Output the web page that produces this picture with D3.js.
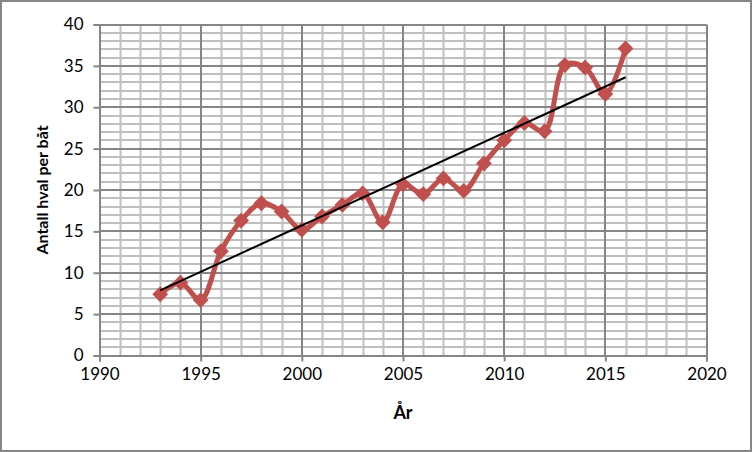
<!DOCTYPE html>
<html><head><meta charset="utf-8">
<script src="https://cdn.jsdelivr.net/npm/d3@7"></script>
<style>body{margin:0;background:#fff;}svg{display:block;font-family:Lato,"Open Sans",sans-serif;}</style>
</head><body>
<script>
const years = [1993,1994,1995,1996,1997,1998,1999,2000,2001,2002,2003,2004,2005,2006,2007,2008,2009,2010,2011,2012,2013,2014,2015,2016];
const values = [7.4,8.8,6.7,12.6,16.3,18.4,17.4,15.2,16.8,18.2,19.6,16.1,20.7,19.5,21.4,19.9,23.2,26.0,28.1,27.1,35.1,34.8,31.6,37.1];
const xTicks = [1990,1995,2000,2005,2010,2015,2020];
const yTicks = [0,5,10,15,20,25,30,35,40];
const xTitle = "År";
const yTitle = "Antall hval per båt";

const W=752,H=452;
const svg=d3.select("body").append("svg").attr("width",W).attr("height",H);
svg.append("rect").attr("x",1).attr("y",1).attr("width",W-2).attr("height",H-2).attr("fill","#fff").attr("stroke","#868686").attr("stroke-width",2);

const x=d3.scaleLinear().domain([1990,2020]).range([99.5,706.5]);
const y=d3.scaleLinear().domain([0,40]).range([355.5,24.5]);

const g=svg.append("g");
const minorX=d3.range(1991,2020).filter(v=>v%5!==0);
const minorY=d3.range(1,40).filter(v=>v%5!==0);
g.selectAll(".mx").data(minorX).enter().append("line")
 .attr("x1",d=>Math.round(x(d))+0.5).attr("x2",d=>Math.round(x(d))+0.5).attr("y1",y(0)).attr("y2",y(40))
 .attr("stroke","#bfbfbf").attr("stroke-width",2);
g.selectAll(".my").data(minorY).enter().append("line")
 .attr("y1",d=>Math.round(y(d))).attr("y2",d=>Math.round(y(d))).attr("x1",x(1990)).attr("x2",x(2020))
 .attr("stroke","#bfbfbf").attr("stroke-width",2);
g.selectAll(".Mx").data(xTicks.slice(1)).enter().append("line")
 .attr("x1",d=>Math.round(x(d))).attr("x2",d=>Math.round(x(d))).attr("y1",y(0)).attr("y2",y(40))
 .attr("stroke","#868686").attr("stroke-width",2);
g.selectAll(".My").data(yTicks.slice(1)).enter().append("line")
 .attr("y1",d=>Math.round(y(d))).attr("y2",d=>Math.round(y(d))).attr("x1",x(1990)).attr("x2",x(2020))
 .attr("stroke","#868686").attr("stroke-width",2);

const xAxis=d3.axisBottom(x).tickValues(xTicks).tickFormat(d3.format("d")).tickSize(6).tickPadding(6);
const yAxis=d3.axisLeft(y).tickValues(yTicks).tickSize(6).tickPadding(10);
const xa=svg.append("g").attr("transform",`translate(0,${y(0)})`).call(xAxis);
const ya=svg.append("g").attr("transform",`translate(${x(1990)},0)`).call(yAxis);
[xa,ya].forEach(a=>{
  a.select(".domain").attr("stroke","#868686").attr("stroke-width",2);
  a.selectAll(".tick line").attr("stroke","#868686").attr("stroke-width",2);
  a.selectAll("text").attr("font-size",17).attr("fill","#000").attr("font-family","Lato,'Open Sans',sans-serif");
});

const n=years.length,mx=d3.mean(years),my=d3.mean(values);
const slope=d3.sum(years,(v,i)=>(v-mx)*(values[i]-my))/d3.sum(years,v=>(v-mx)*(v-mx));
const icpt=my-slope*mx;

const line=d3.line().x((d,i)=>x(years[i])).y(d=>y(d)).curve(d3.curveCatmullRom.alpha(0.5));
svg.append("path").datum(values).attr("d",line).attr("fill","none").attr("stroke","#C0504D").attr("stroke-width",5).attr("stroke-linejoin","round");
svg.selectAll(".mk").data(values).enter().append("path")
 .attr("transform",(d,i)=>`translate(${x(years[i])},${y(d)})`)
 .attr("d",d3.symbol().type(d3.symbolDiamond2).size(120))
 .attr("fill","#C0504D").attr("stroke","#C0504D").attr("stroke-width",1.5);

svg.append("line").attr("x1",x(years[0])).attr("x2",x(years[n-1]))
 .attr("y1",y(slope*years[0]+icpt)).attr("y2",y(slope*years[n-1]+icpt))
 .attr("stroke","#000").attr("stroke-width",2);

svg.append("text").attr("x",403).attr("y",419).attr("text-anchor","middle").attr("font-size",18).attr("font-weight","bold").text(xTitle);
svg.append("text").attr("transform",`translate(48,190) rotate(-90)`).attr("text-anchor","middle").attr("font-size",16).attr("font-weight","bold").text(yTitle);
</script>
</body></html>
